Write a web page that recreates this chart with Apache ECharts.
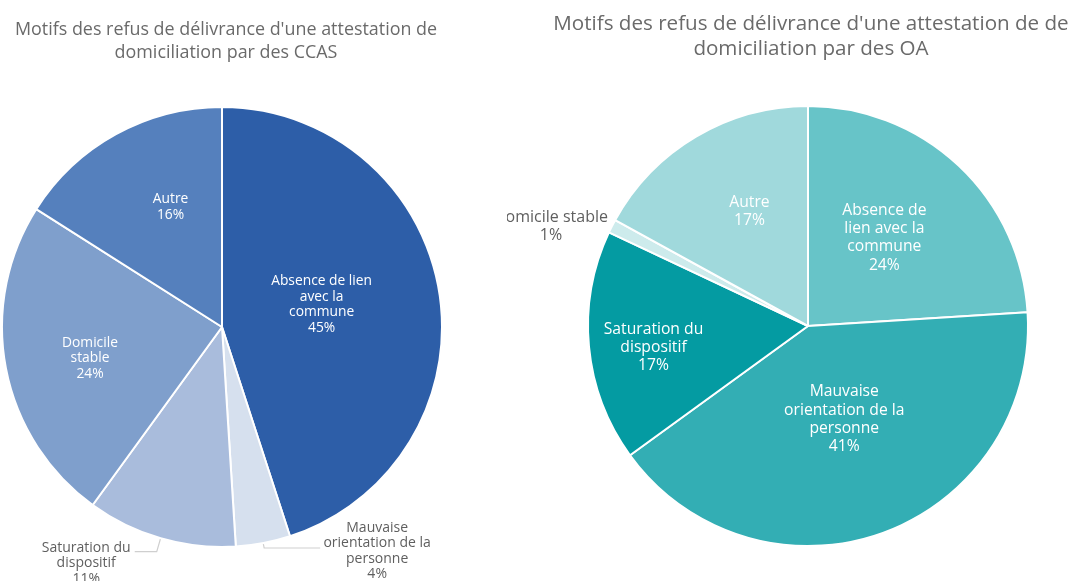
<!DOCTYPE html>
<html>
<head>
<meta charset="utf-8">
<script src="https://cdn.jsdelivr.net/npm/echarts@6/dist/echarts.min.js"></script>
<style>
  html, body { margin: 0; padding: 0; background: #fff; }
  #ccas { position: absolute; left: 0; top: 0; width: 507px; height: 581px; }
  #oa { position: absolute; left: 507px; top: 0; width: 565px; height: 581px; overflow: hidden; }
</style>
</head>
<body>
<div id="ccas"></div>
<div id="oa"></div>
<script>
// Refusal reasons, CCAS
const titleCCAS = "Motifs des refus de délivrance d'une attestation de\ndomiciliation par des CCAS";
const motifsCCAS = ['Absence de lien\navec la\ncommune', 'Mauvaise\norientation de la\npersonne', 'Saturation du\ndispositif', 'Domicile\nstable', 'Autre'];
const partsCCAS = [45, 4, 11, 24, 16];

// Refusal reasons, OA
const titleOA = "Motifs des refus de délivrance d'une attestation de de\ndomiciliation par des OA";
const motifsOA = ['Absence de\nlien avec la\ncommune', 'Mauvaise\norientation de la\npersonne', 'Saturation du\ndispositif', 'Domicile stable', 'Autre'];
const partsOA = [24, 41, 17, 1, 17];

const FONT = 'Open Sans';
const colorsCCAS = ['#2d5ea8', '#d6e0ee', '#a9bcdc', '#7f9fcc', '#5580bd'];
const colorsOA = ['#67c4c8', '#33aeb4', '#049ba2', '#cdebec', '#a0d9dc'];

const measureCtx = document.createElement('canvas').getContext('2d');
function blockWidth(lines, size) {
  measureCtx.font = size + 'px ' + FONT;
  return Math.ceil(Math.max.apply(null, lines.map(l => measureCtx.measureText(l).width)));
}

// cfg: per-slice outside label settings (null = label inside) and inside label nudges
function buildPie(names, values, colors, cfg) {
  const data = names.map((n, i) => {
    const item = { name: n, value: values[i], itemStyle: { color: colors[i] } };
    const out = cfg.outside[i];
    if (out) {
      const lines = n.split('\n').concat(values[i] + '%');
      const w = blockWidth(lines, cfg.outSize);
      item.label = {
        position: 'outside',
        distanceToLabelLine: out.gap,
        padding: [out.drop, 0, 0, 0],
        formatter: lines.map(l => '{t|' + l + '}').join('\n'),
        rich: {
          t: { width: w, align: 'center', color: '#5f5f5f', fontFamily: FONT,
               fontSize: cfg.outSize, lineHeight: cfg.outLH }
        }
      };
      item.labelLine = { show: out.line, length: out.len, length2: out.len2,
                         lineStyle: { color: '#cfcfcf', width: 1.2 } };
    }
    return item;
  });
  return {
    type: 'pie',
    center: cfg.center,
    radius: [0, cfg.r],
    startAngle: 90,
    clockwise: true,
    avoidLabelOverlap: false,
    silent: true,
    animation: false,
    itemStyle: { borderColor: '#ffffff', borderWidth: 2 },
    label: {
      position: 'inside',
      formatter: '{b}\n{c}%',
      color: '#ffffff',
      fontFamily: FONT,
      fontSize: cfg.inSize,
      lineHeight: cfg.inLH
    },
    labelLayout: p => {
      const s = cfg.nudge[p.dataIndex];
      return s ? { dx: s[0], dy: s[1] } : {};
    },
    data: data
  };
}

function titleOpt(text, x, top, size, lh) {
  return {
    text: text, left: x, top: top, textAlign: 'center',
    textStyle: { fontFamily: FONT, fontWeight: 'normal', fontSize: size, lineHeight: lh, color: '#6a6a6a' }
  };
}

const chartCCAS = echarts.init(document.getElementById('ccas'), null, { renderer: 'canvas' });
chartCCAS.setOption({
  backgroundColor: '#ffffff',
  title: titleOpt(titleCCAS, 221, 13, 17.9, 23),
  series: [buildPie(motifsCCAS, partsCCAS, colorsCCAS, {
    center: [222, 327], r: 220, inSize: 13.8, inLH: 15.5, outSize: 14, outLH: 15.5,
    outside: [null, { line: true, len: 5, len2: 56, gap: 3, drop: 6 },
                    { line: true, len: 14, len2: 22, gap: 4, drop: 23 }, null, null],
    nudge: [[-12, -5], null, null, [-21, 10], [3, -21]]
  })]
});

const chartOA = echarts.init(document.getElementById('oa'), null, { renderer: 'canvas' });
chartOA.setOption({
  backgroundColor: '#ffffff',
  title: titleOpt(titleOA, 299, 7, 20.6, 25),
  series: [buildPie(motifsOA, partsOA, colorsOA, {
    center: [301, 326], r: 220, inSize: 15.7, inLH: 18.3, outSize: 16, outLH: 18,
    outside: [null, null, null, { line: false, len: 0, len2: 0, gap: 4, drop: 0 }, null],
    nudge: [[-1, -6], [-2, -13], [-42, 11], null, [-1, -17]]
  })]
});
</script>
</body>
</html>
